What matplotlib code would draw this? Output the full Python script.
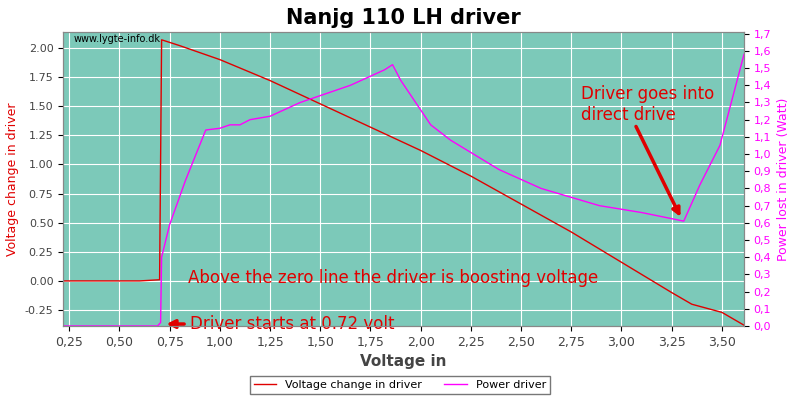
import matplotlib
matplotlib.use("Agg")
import matplotlib.pyplot as plt

vx = [0.22, 0.40, 0.60, 0.70, 0.71, 0.80, 1.00, 1.25, 1.50, 1.75, 2.00, 2.25, 2.50, 2.75, 3.00, 3.25, 3.35, 3.50, 3.61]
vy = [0.0, 0.0, 0.0, 0.01, 2.07, 2.02, 1.90, 1.72, 1.52, 1.32, 1.12, 0.90, 0.66, 0.42, 0.16, -0.10, -0.20, -0.27, -0.38]
px = [0.22, 0.50, 0.69, 0.705, 0.71, 0.75, 0.83, 0.93, 1.00, 1.05, 1.10, 1.15, 1.25, 1.40, 1.65, 1.82, 1.86, 1.90, 2.05, 2.15, 2.39, 2.60, 2.89, 3.10, 3.31, 3.39, 3.49, 3.61]
py = [0.0, 0.0, 0.0, 0.02, 0.40, 0.59, 0.85, 1.14, 1.15, 1.17, 1.17, 1.20, 1.22, 1.30, 1.40, 1.49, 1.52, 1.43, 1.17, 1.08, 0.91, 0.80, 0.70, 0.66, 0.61, 0.82, 1.05, 1.58]

fig, ax = plt.subplots(figsize=(8, 4), dpi=100)
fig.subplots_adjust(left=0.079, right=0.93, top=0.92, bottom=0.185)
bg = '#7cc9b9'
ax.set_facecolor(bg)
ax.grid(True, color='white', lw=0.8)
ax.set_axisbelow(True)
l1, = ax.plot(vx, vy, color='#e00000', lw=1, label='Voltage change in driver')
ax.set_xlim(0.22, 3.61)
ax.set_ylim(-0.387, 2.137)
ax.set_xticks([0.25 * i for i in range(1, 15)])
ax.set_xticklabels([f"{0.25*i:.2f}".replace('.', ',') for i in range(1, 15)], fontsize=9, color='#444')
ax.set_yticks([-0.25 + 0.25 * i for i in range(10)])
ax.set_yticklabels([f"{-0.25+0.25*i:.2f}" for i in range(10)], fontsize=8, color='#444')
ax.set_xlabel('Voltage in', fontsize=11, fontweight='bold', color='#444')
ax.set_ylabel('Voltage change in driver', color='#e00000', fontsize=9)
ax2 = ax.twinx()
l2, = ax2.plot(px, py, color='#ff00ff', lw=1, label='Power driver')
ax2.set_ylim(0, 1.71)
ax2.set_yticks([0.1 * i for i in range(18)])
ax2.set_yticklabels([f"{0.1*i:.1f}".replace('.', ',') for i in range(18)], fontsize=8, color='#ff00ff')
ax2.set_ylabel('Power lost in driver (Watt)', color='#ff00ff', fontsize=9)
for a in (ax, ax2):
    for s in a.spines.values():
        s.set_color('#888')
ax.set_title('Nanjg 110 LH driver', fontsize=15, fontweight='bold')
ax.text(0.27, 2.05, 'www.lygte-info.dk', fontsize=7)
ax.text(0.84, -0.02, 'Above the zero line the driver is boosting voltage', color='#e00000', fontsize=12)
ax.annotate('Driver starts at 0.72 volt', xy=(0.72, -0.37), xytext=(0.85, -0.37),
            color='#e00000', fontsize=12, va='center',
            arrowprops=dict(arrowstyle='-|>', color='#e00000', lw=2.5))
ax2.annotate('Driver goes into\ndirect drive', xy=(3.30, 0.62), xytext=(2.80, 1.20),
             color='#e00000', fontsize=12,
             arrowprops=dict(arrowstyle='-|>', color='#e00000', lw=2.5, shrinkA=0, relpos=(0.4, 0)))
fig.legend([l1, l2], [l1.get_label(), l2.get_label()], loc='lower center', ncol=2,
           fontsize=8, frameon=True, edgecolor='#555', fancybox=False, bbox_to_anchor=(0.5, 0.0))
fig.savefig('out.png')
